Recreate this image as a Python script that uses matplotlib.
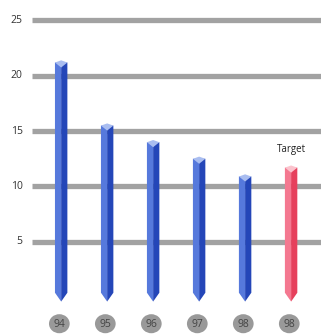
import matplotlib.pyplot as plt
from matplotlib.patches import Polygon, Ellipse

# data
years = ['94', '95', '96', '97', '98', '98']
values = [21.2, 15.5, 14.0, 12.5, 10.9]
target = 11.7
yticks = [5, 10, 15, 20, 25]

plt.rcParams['font.family'] = ['Open Sans', 'DejaVu Sans']

fig = plt.figure(figsize=(3.21, 3.35), dpi=100)
ax = fig.add_axes([0, 0, 1, 1])
ax.set_xlim(-1.33, 5.65)
ax.set_ylim(-3.42, 26.85)
ax.axis('off')

# grid lines
for t in yticks:
    ax.plot([-0.64, 5.65], [t, t], color='#a2a2a2', lw=3.8, solid_capstyle='butt', zorder=1)
    ax.text(-0.84, t, str(t), ha='right', va='center', fontsize=7.5, color='#333333')

def bar(x, v, light, dark, top):
    hw = 0.135
    ax.add_patch(Polygon([(x - hw, v), (x, v), (x, 0.4), (x, -0.4), (x - hw, 0.4)],
                         closed=True, fc=light, ec='none', zorder=3))
    ax.add_patch(Polygon([(x, v), (x + hw, v), (x + hw, 0.4), (x, -0.4)],
                         closed=True, fc=dark, ec='none', zorder=3))
    ax.add_patch(Polygon([(x - hw, v), (x, v + 0.2), (x + hw, v), (x, v - 0.45)],
                         closed=True, fc=top, ec='none', zorder=4))

colors = [('#5679dc', '#2446b8', '#a9bdf0')] * len(values) + [('#f47890', '#e6405c', '#fbc3cd')]
for i, v in enumerate(values + [target]):
    bar(i, v, *colors[i])

ax.text(len(values), target + 1.1, 'Target', ha='center', va='bottom', fontsize=7, color='#222222')

for i, y in enumerate(years):
    ax.add_patch(Ellipse((i - 0.04, -2.4), 0.45, 1.72, fc='#999999', ec='none', zorder=2))
    ax.text(i - 0.04, -2.45, y, ha='center', va='center', fontsize=7.5, color='#444444', zorder=3)

fig.savefig('out.png', dpi=100)
